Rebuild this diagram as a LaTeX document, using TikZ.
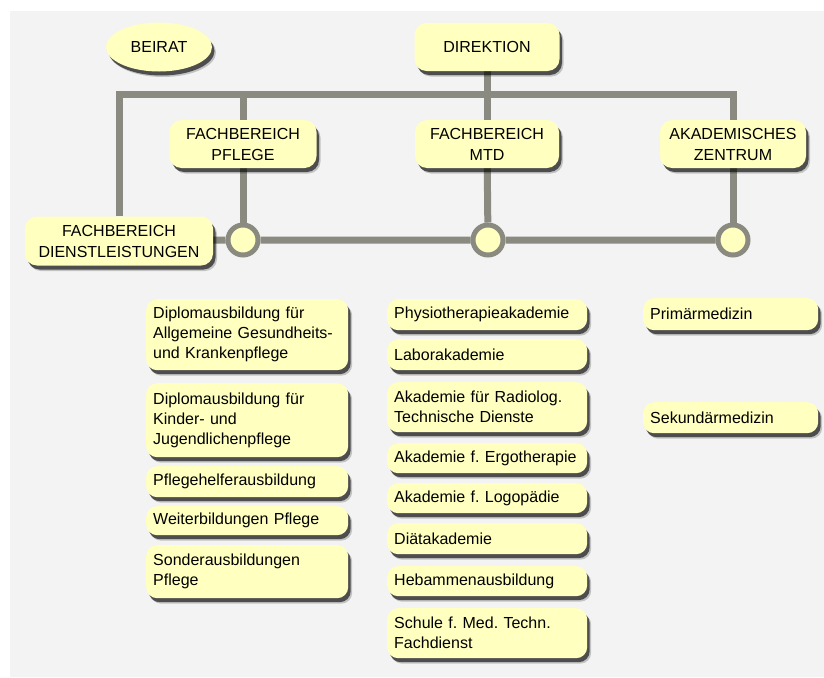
\documentclass[tikz,border=0pt]{standalone}
\usepackage{fontspec}
\setmainfont{Liberation Sans}
\frenchspacing
\usetikzlibrary{positioning,shapes.geometric,shadows,backgrounds}
\pgfdeclarelayer{back}
\pgfsetlayers{background,back,main}

\definecolor{boxyellow}{RGB}{255,255,192}
\definecolor{linegray}{RGB}{138,138,128}
\definecolor{bggray}{RGB}{243,243,243}

\tikzset{
  unit/.style={fill=boxyellow, rounded corners=12pt, inner sep=2pt,
    drop shadow={shadow xshift=4pt, shadow yshift=-5.5pt, fill=black, opacity=.2},
    drop shadow={shadow xshift=2.5pt, shadow yshift=-4pt, fill=black, opacity=.6},
    font=\fontsize{16}{21}\selectfont, align=center},
  head/.style={unit, minimum width=147pt, minimum height=48pt},
  course/.style={unit, anchor=north west, align=left, inner xsep=7pt,
    rounded corners=11pt, font=\fontsize{16}{20}\selectfont, text width=#1},
  course/.default=188pt,
  joint/.style={circle, fill=boxyellow, draw=linegray, line width=5pt,
    minimum size=30pt, inner sep=0pt},
  link/.style={linegray, line width=7pt},
}

\begin{document}
\begin{tikzpicture}[x=1pt, y=-1pt]
  \useasboundingbox (0,0) rectangle (824,677);
  \begin{pgfonlayer}{background}
    \fill[bggray] (10,11) rectangle (824,677);
  \end{pgfonlayer}

  % top level
  \node[unit, ellipse, rounded corners=0pt, minimum width=106pt, minimum height=49pt]
    (beirat) at (159,47) {BEIRAT};
  \node[head, minimum width=145pt] (direktion) at (487,47) {DIREKTION};

  % departments
  \node[head] (pflege) at (243,144) {FACHBEREICH\\PFLEGE};
  \node[head, minimum width=144pt] (mtd) at (487,144) {FACHBEREICH\\MTD};
  \node[head, minimum width=146pt] (zentrum) at (733,144) {AKADEMISCHES\\ZENTRUM};
  \node[head, minimum width=188pt, minimum height=49pt]
    (dienst) at (119,241) {FACHBEREICH\\DIENSTLEISTUNGEN};

  \node[joint] (j1) at (243,240) {};
  \node[joint] (j2) at (488,240) {};
  \node[joint] (j3) at (733,240) {};

  \coordinate (bar) at (487,94);

  \begin{pgfonlayer}{back}
    \draw[link] (dienst.north) |- (bar) -| (zentrum.north);
    \draw[link] (pflege.north) -- (pflege.north |- bar);
    \draw[link] (direktion) -- (mtd);
    \draw[link] (pflege) -- (j1);
    \draw[link] (mtd) -- (j2);
    \draw[link] (zentrum) -- (j3);
    \draw[link] (dienst) -- (j1) -- (j2) -- (j3);
  \end{pgfonlayer}

  % Pflege
  \node[course, minimum height=71pt] (p1) at (146,299)
    {Diplomausbildung für\\Allgemeine Gesundheits-\\und Krankenpflege};
  \node[course, minimum height=74pt] (p2) at (146,383)
    {Diplomausbildung für\\Kinder- und\\Jugendlichenpflege};
  \node[course, minimum height=31pt] (p3) at (146,466) {Pflegehelferausbildung};
  \node[course, minimum height=29pt] (p4) at (146,506) {Weiterbildungen Pflege};
  \node[course, minimum height=53pt] (p5) at (146,545) {Sonderausbildungen\\Pflege};

  % MTD
  \node[course=186pt, minimum height=31pt] (m1) at (387,299) {Physiotherapieakademie};
  \node[course=186pt, minimum height=31pt] (m2) at (387,339) {Laborakademie};
  \node[course=186pt, minimum height=50pt] (m3) at (387,382)
    {Akademie für Radiolog.\\Technische Dienste};
  \node[course=186pt, minimum height=30pt] (m4) at (387,443) {Akademie f. Ergotherapie};
  \node[course=186pt, minimum height=30pt] (m5) at (387,483) {Akademie f. Logopädie};
  \node[course=186pt, minimum height=31pt] (m6) at (387,523) {Diätakademie};
  \node[course=186pt, minimum height=30pt] (m7) at (387,566) {Hebammenausbildung};
  \node[course=186pt, minimum height=50pt] (m8) at (387,608)
    {Schule f. Med. Techn.\\Fachdienst};

  % Akademisches Zentrum
  \node[course=161pt, minimum height=32pt] (z1) at (643,298) {Primärmedizin};
  \node[course=161pt, minimum height=31pt] (z2) at (643,402) {Sekundärmedizin};
\end{tikzpicture}
\end{document}
